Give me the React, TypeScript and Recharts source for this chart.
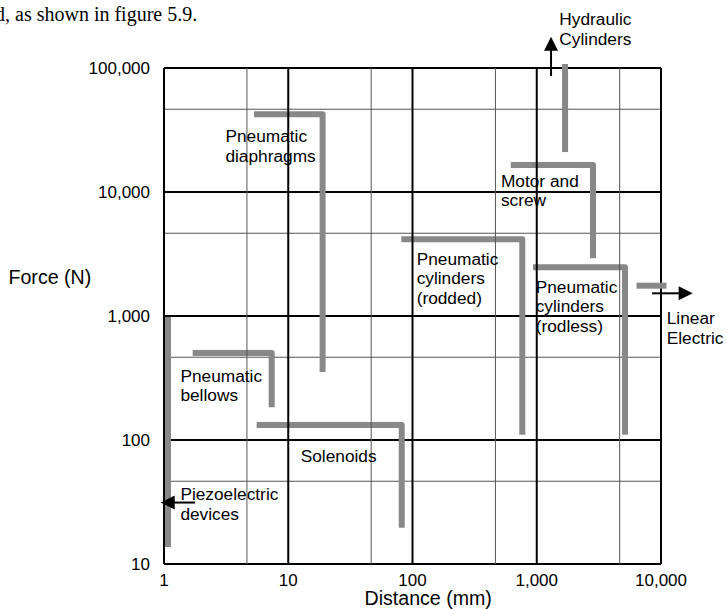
import React from 'react';
import { ComposedChart, Line, XAxis, YAxis, ReferenceLine, ReferenceDot } from 'recharts';

const FONT = "'Liberation Sans', Arial, sans-serif";

const xMajor = [1, 10, 100, 1000, 10000];
const yMajor = [10, 100, 1000, 10000, 100000];
const xMinor = [4.65, 46.5, 465, 4650];
const yMinor = [46.5, 465, 4650, 46500];

const pneumaticDiaphragms = [{ x: 5.3, y: 42400 }, { x: 18.9, y: 42400 }, { x: 18.9, y: 353 }];
const pneumaticBellows = [{ x: 1.7, y: 503 }, { x: 7.36, y: 503 }, { x: 7.36, y: 184 }];
const solenoids = [{ x: 5.57, y: 132 }, { x: 81.9, y: 132 }, { x: 81.9, y: 19.6 }];
const cylindersRodded = [{ x: 81.3, y: 4160 }, { x: 765, y: 4160 }, { x: 765, y: 110 }];
const cylindersRodless = [{ x: 933, y: 2470 }, { x: 5130, y: 2470 }, { x: 5130, y: 110 }];
const motorScrew = [{ x: 618, y: 16500 }, { x: 2835, y: 16500 }, { x: 2835, y: 2920 }];

const hydraulicBar = [{ x: 1690, y: 107700 }, { x: 1690, y: 21000 }];
const piezoBar = [{ x: 1.077, y: 982 }, { x: 1.077, y: 13.7 }];
const linearBar = [{ x: 6350, y: 1755 }, { x: 11070, y: 1755 }];

const hydraulicArrow = [{ x: 1303, y: 86100 }, { x: 1303, y: 178700 }];
const linearArrow = [{ x: 8470, y: 1524 }, { x: 17990, y: 1524 }];
const piezoArrow = [{ x: 1.78, y: 31.3 }, { x: 0.941, y: 31.3 }];

const labels = [
  { x: 3.12, y: 25300, lines: ['Pneumatic', 'diaphragms'] },
  { x: 1.355, y: 295, lines: ['Pneumatic', 'bellows'] },
  { x: 12.6, y: 66.8, lines: ['Solenoids'] },
  { x: 1.355, y: 32.8, lines: ['Piezoelectric', 'devices'] },
  { x: 108, y: 2580, lines: ['Pneumatic', 'cylinders', '(rodded)'] },
  { x: 981, y: 1542, lines: ['Pneumatic', 'cylinders', '(rodless)'] },
  { x: 515, y: 11030, lines: ['Motor and', 'screw'] },
  { x: 1520, y: 222000, lines: ['Hydraulic', 'Cylinders'] },
  { x: 11120, y: 861, lines: ['Linear', 'Electric'] },
];

const lSeries = [pneumaticDiaphragms, pneumaticBellows, solenoids, cylindersRodded, cylindersRodless, motorScrew];
const bars = [hydraulicBar, piezoBar, linearBar];
const arrows = [hydraulicArrow, linearArrow, piezoArrow];

const GRAY = '#888888';

const ArrowShape = (props: any) => {
  const { x1, y1, x2, y2 } = props;
  const dx = x2 - x1;
  const dy = y2 - y1;
  const len = Math.hypot(dx, dy) || 1;
  const ux = dx / len;
  const uy = dy / len;
  const headLen = 14;
  const headHalf = 7;
  const bx = x2 - ux * headLen;
  const by = y2 - uy * headLen;
  const px = -uy * headHalf;
  const py = ux * headHalf;
  return (
    <g>
      <line x1={x1} y1={y1} x2={bx + ux} y2={by + uy} stroke="#000" strokeWidth={2} />
      <polygon points={`${x2},${y2} ${bx + px},${by + py} ${bx - px},${by - py}`} fill="#000" />
    </g>
  );
};

const makeLabel = (lines: string[]) => (props: any) => {
  const { cx, cy } = props;
  return (
    <text x={cx} y={cy} fontFamily={FONT} fontSize={17.3} fill="#000">
      {lines.map((l, i) => (
        <tspan key={i} x={cx} dy={i === 0 ? 0 : 19.5}>
          {l}
        </tspan>
      ))}
    </text>
  );
};

const fmt = (v: number) => v.toLocaleString('en-US');

export default function App() {
  return (
    <div style={{ position: 'absolute', left: 0, top: 0, width: 726, height: 609, background: '#fff' }}>
      <ComposedChart
        width={726}
        height={609}
        margin={{ top: 68, right: 65, bottom: 15, left: 84 }}
        style={{ fontFamily: FONT }}
      >
        <XAxis
          dataKey="x"
          type="number"
          scale="log"
          domain={[1, 10000]}
          ticks={xMajor}
          tickFormatter={fmt}
          axisLine={false}
          tickLine={false}
          tickSize={0}
          tickMargin={10}
          height={30}
          interval={0}
          tick={{ fill: '#000', fontSize: 17, fontFamily: FONT }}
        />
        <YAxis
          type="number"
          scale="log"
          domain={[10, 100000]}
          ticks={yMajor}
          tickFormatter={fmt}
          axisLine={false}
          tickLine={false}
          tickSize={0}
          tickMargin={14}
          width={80}
          interval={0}
          tick={{ fill: '#000', fontSize: 17, fontFamily: FONT }}
        />

        {yMinor.map((v) => (
          <ReferenceLine key={'ym' + v} y={v} stroke="#555" strokeWidth={1} zIndex={100} />
        ))}
        {yMajor.map((v) => (
          <ReferenceLine key={'yM' + v} y={v} stroke="#000" strokeWidth={2} zIndex={100} />
        ))}
        <ReferenceLine x={xMajor[0]} stroke="#000" strokeWidth={2} zIndex={100} />
        <ReferenceLine x={xMajor[xMajor.length - 1]} stroke="#000" strokeWidth={2} zIndex={100} />

        {lSeries.map((d, i) => (
          <Line
            key={'s' + i}
            data={d}
            dataKey="y"
            type="linear"
            stroke={GRAY}
            strokeWidth={6}
            strokeLinejoin="round"
            strokeLinecap="butt"
            dot={false}
            activeDot={false}
            isAnimationActive={false}
            zIndex={400}
          />
        ))}
        {bars.map((d, i) => (
          <ReferenceLine
            key={'b' + i}
            segment={d}
            stroke={GRAY}
            strokeWidth={6}
            ifOverflow="visible"
            zIndex={400}
          />
        ))}

        {xMinor.map((v) => (
          <ReferenceLine key={'xm' + v} x={v} stroke="#555" strokeWidth={1} zIndex={450} />
        ))}
        {xMajor.slice(1, -1).map((v) => (
          <ReferenceLine key={'xM' + v} x={v} stroke="#000" strokeWidth={2} zIndex={450} />
        ))}

        {arrows.map((d, i) => (
          <ReferenceLine key={'a' + i} segment={d} ifOverflow="visible" shape={ArrowShape} zIndex={500} />
        ))}

        {labels.map((lab, i) => (
          <ReferenceDot
            key={'l' + i}
            x={lab.x}
            y={lab.y}
            r={0}
            ifOverflow="visible"
            shape={makeLabel(lab.lines)}
            zIndex={2000}
          />
        ))}

        <text x={8.5} y={284} fontFamily={FONT} fontSize={19.6} fill="#000">
          Force (N)
        </text>
        <text x={364.5} y={605} fontFamily={FONT} fontSize={19.6} fill="#000">
          Distance (mm)
        </text>
        <text x={-5} y={20.5} fontFamily="'Liberation Serif', 'Times New Roman', serif" fontSize={20} fill="#000">
          d, as shown in figure 5.9.
        </text>
      </ComposedChart>
    </div>
  );
}
